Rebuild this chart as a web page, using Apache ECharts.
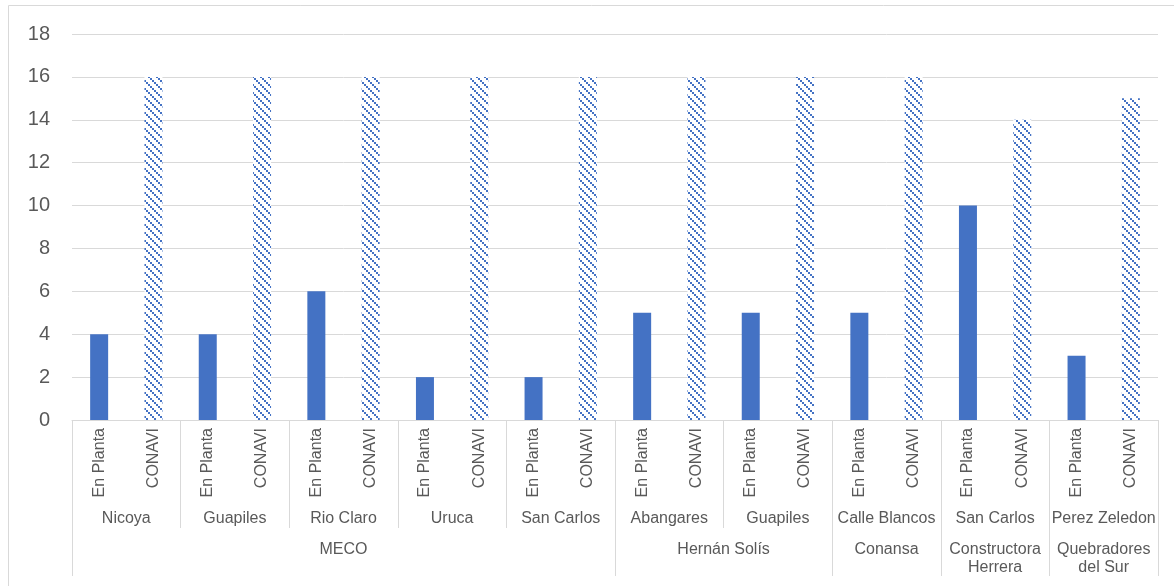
<!DOCTYPE html>
<html>
<head>
<meta charset="utf-8">
<script src="https://cdn.jsdelivr.net/npm/echarts@6/dist/echarts.min.js"></script>
<style>
  html, body { margin: 0; padding: 0; background: #fff; }
  #main { width: 1174px; height: 586px; }
</style>
</head>
<body>
<div id="main"></div>
<script>
// level 1: two bars per plant
var tipos = ['En Planta', 'CONAVI'];
// level 2: plants
var plantas = ['Nicoya', 'Guapiles', 'Rio Claro', 'Uruca', 'San Carlos',
               'Abangares', 'Guapiles', 'Calle Blancos', 'San Carlos', 'Perez Zeledon'];
// level 3: companies and how many plants each one covers
var empresas = ['MECO', 'Hernán Solís', 'Conansa', 'Constructora\nHerrera', 'Quebradores\ndel Sur'];
var empresasSpan = [5, 2, 1, 1, 1];
// values
var enPlanta = [4, 4, 6, 2, 2, 5, 5, 5, 10, 3];
var conavi = [16, 16, 16, 16, 16, 16, 16, 16, 14, 15];
var yTicks = [0, 2, 4, 6, 8, 10, 12, 14, 16, 18];

var azul = '#4472C4';
var gris = '#D9D9D9';
var texto = '#595959';
var fuente = 'Liberation Sans, Arial, sans-serif';

// hatched fill for CONAVI (dotted downward diagonal)
function trama() {
    var c = document.createElement('canvas');
    c.width = 8; c.height = 8;
    var ctx = c.getContext('2d');
    ctx.fillStyle = '#fff';
    ctx.fillRect(0, 0, 8, 8);
    ctx.fillStyle = azul;
    for (var j = 0; j < 4; j++) {
        ctx.fillRect(2 * j, 2 * j, 2, 2);
    }
    return { image: c, repeat: 'repeat' };
}

// build level-1 categories and the two (interleaved) series
var cats = [], serieA = [], serieB = [];
for (var i = 0; i < plantas.length; i++) {
    cats.push(tipos[0]); cats.push(tipos[1]);
    serieA.push(enPlanta[i]); serieA.push(null);
    serieB.push(null); serieB.push(conavi[i]);
}
var n = cats.length;            // 20
var half = 2 * n + 1;           // 41 half-step points for group axes

// level-2 axis: label at centre of each plant, separator between plants
var lab2 = [], sep2 = [];
for (var k = 0; k < half; k++) { lab2.push(''); sep2.push(k % 4 === 0); }
for (var p = 0; p < plantas.length; p++) lab2[4 * p + 2] = plantas[p];

// level-3 axis
var lab3 = [], sep3 = [];
for (var k = 0; k < half; k++) { lab3.push(''); sep3.push(false); }
var pos = 0;
sep3[0] = true;
for (var e = 0; e < empresas.length; e++) {
    var w = empresasSpan[e] * 4;
    lab3[pos + w / 2] = empresas[e];
    pos += w;
    sep3[pos] = true;
}

var idx = [];
for (var k = 0; k < half; k++) idx.push('p' + k);
var idx1 = [];
for (var k = 0; k < n; k++) idx1.push('c' + k);

var myChart = echarts.init(document.getElementById('main'));
var option = {
    animation: false,
    textStyle: { fontFamily: fuente },
    grid: { left: 72, right: 16, top: 34, bottom: 166, containLabel: false },
    graphic: [{
        type: 'rect', z: -10, silent: true,
        shape: { x: 8.5, y: 5.5, width: 1200, height: 620 },
        style: { fill: 'none', stroke: gris, lineWidth: 1 }
    }],
    xAxis: [{
        type: 'category',
        position: 'bottom',
        data: idx1,
        axisLine: { lineStyle: { color: gris, width: 1 } },
        axisTick: { show: false },
        axisLabel: {
            interval: 0, rotate: 90, margin: 8,
            color: texto, fontSize: 16, fontFamily: fuente,
            formatter: function (v, i) { return cats[i]; }
        }
    }, {
        type: 'category',
        position: 'bottom',
        data: idx,
        boundaryGap: false,
        axisLine: { show: false },
        axisTick: {
            show: true, length: 108,
            interval: function (i) { return sep2[i]; },
            lineStyle: { color: gris, width: 1 }
        },
        axisLabel: {
            interval: 0, margin: 91,
            color: texto, fontSize: 16, fontFamily: fuente,
            formatter: function (v, i) { return lab2[i]; }
        }
    }, {
        type: 'category',
        position: 'bottom',
        data: idx,
        boundaryGap: false,
        axisLine: { show: false },
        axisTick: {
            show: true, length: 156,
            interval: function (i) { return sep3[i]; },
            lineStyle: { color: gris, width: 1 }
        },
        axisLabel: {
            interval: 0, margin: 121, lineHeight: 18,
            color: texto, fontSize: 16, fontFamily: fuente,
            formatter: function (v, i) { return lab3[i]; }
        }
    }],
    yAxis: {
        type: 'value',
        min: yTicks[0],
        max: yTicks[yTicks.length - 1],
        interval: 2,
        axisLine: { show: false },
        axisTick: { show: false },
        axisLabel: { color: texto, fontSize: 20, margin: 22, fontFamily: fuente },
        splitLine: { lineStyle: { color: gris, width: 1 } }
    },
    series: [{
        name: tipos[0], type: 'bar', xAxisIndex: 0,
        data: serieA, barWidth: 18, barGap: '-100%',
        itemStyle: { color: azul }
    }, {
        name: tipos[1], type: 'bar', xAxisIndex: 0,
        data: serieB, barWidth: 18, barGap: '-100%',
        itemStyle: { color: trama() }
    }]
};
myChart.setOption(option, true);

window.onresize = function () {
    myChart.resize();
}
</script>
</body>
</html>
